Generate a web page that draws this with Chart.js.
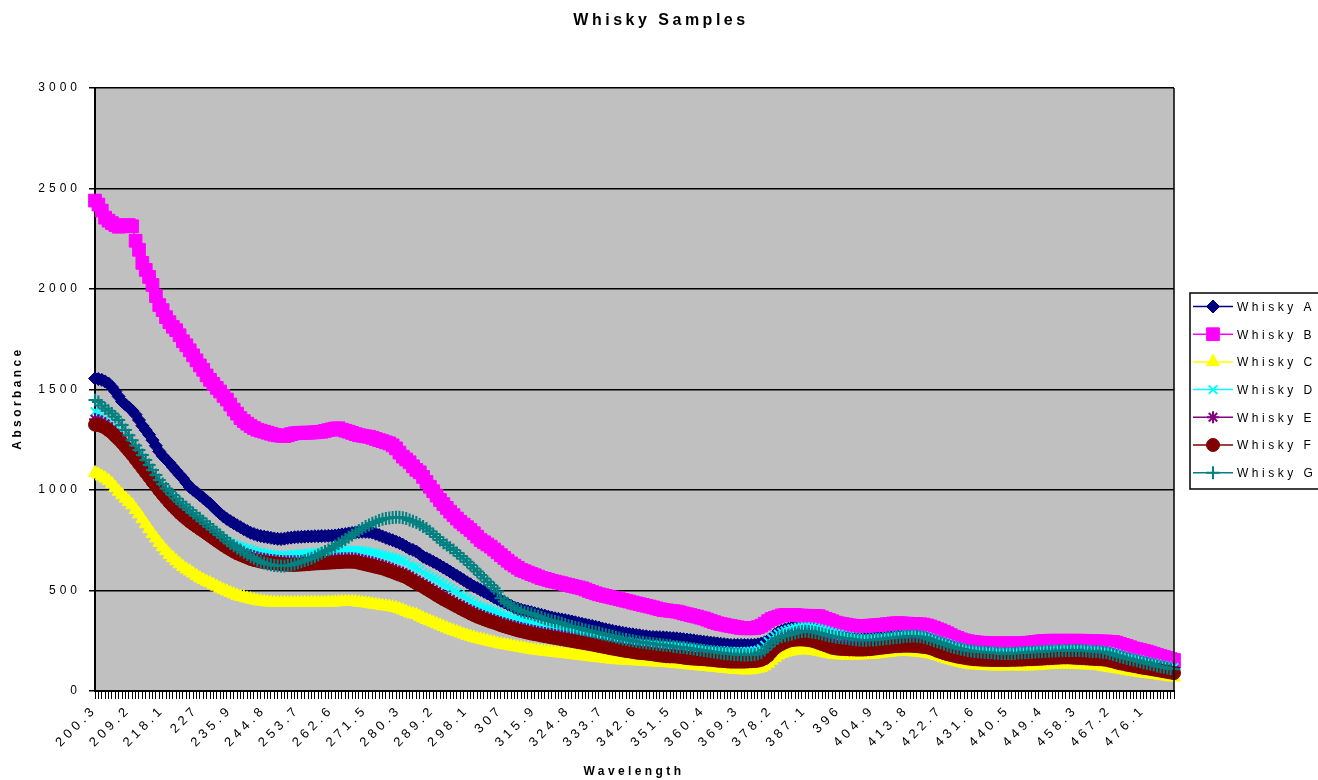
<!DOCTYPE html>
<html>
<head>
<meta charset="utf-8">
<title>Whisky Samples</title>
<script src="https://cdn.jsdelivr.net/npm/chart.js@4/dist/chart.umd.min.js"></script>
<style>
  html, body { margin: 0; padding: 0; background: #ffffff; }
  #wrap { position: relative; width: 1318px; height: 780px; }
</style>
</head>
<body>
<div id="wrap"><canvas id="whiskyChart" width="1318" height="780"></canvas></div>
<script>
/**
 * ===========================================================================
 * DATA - absorbance per wavelength step
 * ===========================================================================
 */

// Visible category labels, one every 10 wavelength steps
const tickLabels = ['200.3', '209.2', '218.1', '227', '235.9', '244.8', '253.7', '262.6',
    '271.5', '280.3', '289.2', '298.1', '307', '315.9', '324.8', '333.7', '342.6', '351.5',
    '360.4', '369.3', '378.2', '387.1', '396', '404.9', '413.8', '422.7', '431.6', '440.5',
    '449.4', '458.3', '467.2', '476.1'];

const seriesNames = ['Whisky A', 'Whisky B', 'Whisky C', 'Whisky D', 'Whisky E', 'Whisky F', 'Whisky G'];

const whiskyA = [
    1555, 1552, 1548, 1540, 1530, 1512, 1490, 1465, 1440, 1425,
    1410, 1395, 1375, 1348, 1320, 1298, 1275, 1248, 1220, 1192,
    1170, 1152, 1135, 1115, 1095, 1076, 1058, 1036, 1015, 1001,
    988, 974, 960, 946, 932, 915, 898, 883, 868, 856,
    845, 835, 825, 815, 805, 796, 787, 781, 775, 771,
    768, 765, 762, 759, 757, 756, 758, 761, 763, 765,
    766, 767, 768, 769, 769, 770, 770, 771, 771, 772,
    772, 774, 776, 779, 781, 784, 786, 789, 791, 792,
    792, 791, 788, 782, 776, 769, 762, 756, 750, 743,
    736, 728, 718, 708, 702, 694, 682, 668, 660, 652,
    643, 634, 624, 614, 604, 594, 583, 573, 562, 552,
    541, 531, 520, 512, 503, 494, 485, 476, 466, 458,
    449, 441, 432, 424, 415, 410, 404, 400, 396, 392,
    387, 383, 379, 375, 370, 366, 362, 359, 356, 353,
    350, 346, 342, 338, 334, 331, 327, 324, 320, 316,
    311, 307, 303, 300, 296, 293, 290, 287, 284, 282,
    279, 277, 274, 272, 270, 269, 268, 268, 267, 266,
    264, 263, 262, 260, 258, 256, 254, 252, 249, 247,
    245, 243, 241, 239, 237, 235, 233, 231, 229, 229,
    229, 229, 229, 229, 229, 230, 232, 236, 242, 252,
    265, 280, 292, 299, 305, 310, 315, 318, 320, 323,
    326, 325, 322, 319, 315, 311, 306, 302, 297, 293,
    290, 284, 279, 274, 271, 269, 268, 268, 268, 269,
    269, 270, 270, 272, 274, 276, 278, 280, 281, 283,
    284, 285, 285, 284, 281, 278, 274, 269, 263, 258,
    252, 246, 240, 235, 229, 224, 219, 215, 212, 209,
    207, 205, 204, 203, 202, 201, 200, 199, 199, 198,
    198, 199, 200, 201, 202, 203, 204, 205, 206, 207,
    208, 209, 210, 210, 211, 211, 212, 212, 212, 212,
    212, 212, 211, 210, 209, 208, 207, 206, 204, 202,
    198, 193, 187, 182, 178, 174, 169, 165, 161, 156,
    152, 148, 144, 140, 135, 131, 127, 124, 121, 118
];

const whiskyB = [
    2440, 2420, 2390, 2355, 2340, 2328, 2318, 2310, 2312, 2316,
    2318, 2312, 2240, 2195, 2130, 2095, 2060, 2020, 1965, 1920,
    1895, 1860, 1835, 1812, 1795, 1770, 1740, 1720, 1695, 1670,
    1645, 1620, 1598, 1570, 1548, 1528, 1508, 1490, 1468, 1450,
    1425, 1400, 1380, 1358, 1343, 1330, 1318, 1308, 1300, 1295,
    1290, 1285, 1280, 1275, 1272, 1270, 1268, 1272, 1278, 1282,
    1284, 1285, 1285, 1285, 1286, 1287, 1288, 1290, 1294, 1298,
    1302, 1306, 1307, 1300, 1295, 1290, 1284, 1278, 1273, 1270,
    1267, 1265, 1260, 1254, 1248, 1243, 1237, 1232, 1222, 1207,
    1186, 1166, 1152, 1138, 1118, 1100, 1088, 1065, 1040, 1016,
    994, 972, 950, 930, 911, 892, 875, 858, 842, 828,
    815, 801, 785, 768, 751, 740, 729, 718, 704, 690,
    676, 662, 648, 635, 624, 613, 602, 596, 589, 582,
    576, 569, 562, 558, 553, 548, 544, 540, 536, 531,
    527, 523, 519, 515, 511, 505, 498, 492, 486, 481,
    477, 473, 469, 465, 461, 457, 453, 449, 445, 440,
    436, 432, 428, 424, 420, 416, 411, 407, 403, 401,
    399, 397, 395, 391, 386, 382, 378, 374, 370, 365,
    361, 355, 349, 343, 337, 333, 330, 326, 323, 320,
    317, 314, 312, 312, 312, 313, 318, 325, 335, 348,
    358, 364, 370, 376, 378, 378, 378, 378, 376, 375,
    374, 374, 374, 373, 372, 366, 359, 353, 347, 340,
    336, 333, 330, 327, 325, 323, 323, 323, 324, 325,
    326, 327, 328, 330, 332, 334, 336, 337, 337, 336,
    335, 334, 333, 332, 332, 330, 326, 321, 315, 308,
    302, 295, 287, 278, 270, 264, 257, 252, 248, 245,
    243, 241, 240, 239, 238, 237, 237, 237, 237, 237,
    237, 237, 237, 237, 237, 238, 240, 242, 244, 246,
    248, 249, 250, 250, 250, 250, 250, 250, 250, 250,
    250, 250, 250, 249, 248, 248, 247, 247, 246, 246,
    245, 244, 240, 234, 229, 224, 218, 212, 208, 204,
    200, 196, 191, 185, 179, 174, 169, 164, 159, 154
];

const whiskyC = [
    1085, 1078, 1068, 1058, 1046, 1031, 1012, 992, 975, 958,
    942, 925, 902, 880, 856, 831, 806, 782, 760, 738,
    716, 697, 678, 662, 647, 632, 618, 606, 596, 585,
    573, 562, 553, 545, 538, 529, 520, 511, 503, 496,
    489, 482, 475, 470, 466, 461, 457, 453, 449, 446,
    444, 442, 441, 440, 439, 439, 439, 439, 439, 439,
    439, 439, 439, 439, 440, 440, 440, 440, 440, 441,
    441, 442, 443, 444, 444, 444, 444, 443, 441, 439,
    437, 435, 432, 429, 427, 424, 422, 420, 417, 413,
    408, 402, 395, 388, 383, 379, 371, 362, 355, 348,
    341, 334, 327, 320, 313, 306, 300, 294, 288, 282,
    276, 271, 266, 261, 257, 253, 249, 245, 241, 237,
    233, 230, 227, 224, 221, 218, 215, 212, 209, 206,
    203, 201, 199, 197, 195, 193, 191, 189, 187, 185,
    183, 181, 179, 177, 175, 173, 171, 169, 167, 165,
    163, 161, 159, 157, 155, 154, 153, 152, 151, 150,
    149, 148, 147, 146, 145, 144, 143, 142, 141, 140,
    139, 137, 135, 134, 133, 131, 129, 127, 126, 124,
    122, 121, 119, 117, 116, 114, 112, 111, 109, 107,
    106, 105, 104, 104, 105, 108, 112, 117, 124, 137,
    152, 166, 178, 186, 192, 196, 199, 201, 203, 204,
    205, 204, 202, 199, 196, 193, 189, 185, 182, 180,
    179, 178, 178, 178, 178, 178, 179, 179, 180, 181,
    182, 184, 186, 188, 190, 192, 194, 195, 196, 196,
    196, 195, 194, 193, 191, 189, 187, 184, 180, 175,
    170, 164, 158, 154, 149, 145, 141, 137, 133, 130,
    129, 128, 127, 126, 125, 124, 124, 124, 124, 124,
    124, 124, 124, 124, 124, 124, 124, 124, 125, 126,
    128, 129, 130, 131, 132, 133, 134, 134, 133, 132,
    131, 130, 130, 129, 129, 128, 127, 125, 122, 119,
    116, 113, 111, 108, 105, 102, 99, 96, 94, 91,
    88, 86, 84, 82, 80, 77, 75, 73, 70, 68
];

const whiskyD = [
    1390, 1382, 1368, 1352, 1336, 1318, 1298, 1278, 1258, 1238,
    1218, 1198, 1176, 1154, 1132, 1110, 1088, 1066, 1044, 1022,
    1002, 985, 968, 951, 934, 917, 902, 888, 874, 861,
    848, 835, 822, 810, 798, 787, 776, 765, 755, 747,
    739, 731, 724, 719, 714, 709, 703, 697, 692, 689,
    686, 683, 680, 677, 676, 675, 675, 676, 678, 680,
    681, 682, 683, 685, 686, 688, 690, 692, 694, 695,
    697, 698, 699, 700, 700, 701, 701, 700, 699, 698,
    695, 691, 688, 685, 681, 676, 672, 668, 664, 658,
    653, 648, 638, 625, 618, 612, 602, 589, 579, 570,
    561, 552, 541, 531, 521, 511, 500, 490, 480, 469,
    459, 449, 438, 428, 420, 414, 409, 403, 397, 390,
    382, 375, 370, 364, 359, 355, 351, 347, 343, 339,
    335, 331, 326, 321, 318, 315, 313, 311, 308, 305,
    301, 298, 294, 291, 288, 284, 281, 278, 275, 272,
    269, 266, 263, 260, 257, 254, 251, 249, 246, 243,
    240, 239, 237, 236, 234, 233, 232, 230, 229, 228,
    227, 226, 224, 223, 221, 219, 217, 215, 212, 210,
    207, 206, 204, 203, 201, 200, 199, 198, 197, 196,
    196, 196, 196, 197, 198, 200, 203, 210, 228, 246,
    262, 274, 284, 292, 299, 305, 310, 314, 317, 319,
    320, 319, 317, 314, 310, 306, 301, 296, 291, 286,
    282, 278, 274, 271, 268, 266, 264, 263, 263, 263,
    264, 265, 266, 268, 270, 272, 274, 276, 278, 279,
    280, 281, 281, 280, 278, 275, 270, 264, 258, 252,
    247, 241, 235, 229, 224, 219, 215, 211, 208, 206,
    204, 202, 201, 200, 199, 198, 197, 196, 196, 195,
    195, 196, 196, 197, 198, 199, 200, 201, 202, 203,
    204, 205, 206, 207, 207, 208, 208, 209, 209, 209,
    209, 209, 208, 207, 206, 205, 204, 203, 201, 199,
    195, 190, 185, 179, 174, 170, 166, 162, 158, 154,
    150, 146, 142, 138, 134, 130, 127, 124, 121, 117
];

const whiskyE = [
    1352, 1348, 1340, 1330, 1316, 1300, 1283, 1266, 1247, 1228,
    1208, 1188, 1166, 1144, 1122, 1100, 1078, 1056, 1034, 1012,
    992, 972, 953, 935, 918, 902, 887, 873, 860, 848,
    836, 824, 813, 801, 789, 777, 766, 754, 743, 732,
    722, 712, 703, 695, 688, 681, 675, 670, 665, 661,
    658, 655, 652, 650, 648, 647, 646, 645, 645, 645,
    646, 647, 648, 649, 650, 652, 653, 654, 655, 656,
    657, 658, 659, 660, 661, 661, 660, 659, 656, 652,
    648, 644, 640, 636, 631, 626, 620, 614, 608, 601,
    595, 588, 581, 572, 562, 552, 543, 534, 524, 514,
    504, 494, 484, 474, 464, 455, 446, 437, 428, 419,
    410, 402, 394, 386, 379, 372, 366, 360, 354, 348,
    342, 337, 332, 327, 322, 318, 314, 310, 306, 302,
    298, 295, 292, 289, 286, 283, 280, 277, 274, 271,
    268, 265, 262, 259, 256, 253, 250, 247, 244, 241,
    238, 235, 232, 229, 226, 223, 220, 217, 215, 212,
    210, 208, 206, 204, 202, 200, 198, 196, 194, 192,
    191, 190, 189, 187, 185, 183, 181, 179, 177, 175,
    174, 172, 171, 169, 168, 167, 166, 165, 164, 164,
    164, 164, 164, 165, 166, 168, 171, 177, 188, 204,
    222, 238, 250, 260, 268, 275, 280, 283, 285, 286,
    286, 284, 281, 277, 271, 265, 258, 251, 245, 240,
    237, 235, 233, 232, 231, 230, 230, 230, 231, 232,
    234, 236, 238, 240, 242, 244, 246, 248, 249, 250,
    251, 251, 251, 250, 248, 245, 241, 236, 230, 224,
    218, 212, 206, 200, 195, 191, 187, 184, 181, 179,
    177, 175, 174, 173, 172, 171, 171, 170, 170, 170,
    170, 171, 171, 172, 173, 174, 175, 176, 177, 178,
    179, 180, 181, 182, 183, 184, 184, 185, 185, 185,
    185, 184, 183, 182, 181, 180, 179, 178, 176, 174,
    170, 166, 161, 156, 152, 148, 144, 140, 136, 132,
    129, 126, 123, 120, 117, 114, 111, 108, 105, 102
];

const whiskyF = [
    1325, 1323, 1318, 1310, 1298, 1285, 1268, 1252, 1234, 1214,
    1195, 1175, 1153, 1131, 1109, 1087, 1065, 1042, 1020, 998,
    978, 958, 938, 920, 903, 886, 871, 857, 843, 831,
    819, 807, 796, 784, 772, 760, 748, 737, 725, 714,
    704, 694, 685, 678, 671, 664, 657, 652, 648, 644,
    641, 639, 637, 635, 633, 631, 629, 628, 627, 627,
    628, 629, 630, 631, 633, 634, 635, 636, 637, 638,
    639, 640, 641, 642, 643, 643, 643, 642, 638, 634,
    630, 626, 622, 618, 614, 610, 604, 598, 592, 585,
    579, 573, 566, 556, 546, 536, 528, 519, 508, 498,
    488, 477, 467, 457, 448, 439, 430, 421, 412, 403,
    395, 386, 378, 370, 364, 357, 351, 345, 340, 334,
    327, 322, 317, 312, 307, 302, 298, 294, 290, 286,
    283, 280, 276, 273, 270, 267, 264, 261, 258, 255,
    252, 249, 246, 243, 240, 237, 234, 231, 228, 224,
    221, 218, 214, 211, 208, 205, 202, 199, 197, 194,
    191, 189, 188, 186, 184, 182, 179, 177, 175, 173,
    172, 172, 171, 169, 166, 164, 162, 161, 160, 159,
    158, 156, 155, 153, 151, 150, 149, 147, 146, 146,
    146, 146, 146, 147, 148, 149, 151, 155, 163, 176,
    195, 213, 225, 234, 242, 249, 253, 255, 256, 256,
    255, 253, 250, 245, 239, 233, 227, 221, 215, 212,
    210, 209, 208, 207, 207, 206, 206, 206, 207, 208,
    210, 212, 214, 216, 218, 220, 222, 223, 224, 225,
    225, 225, 224, 223, 221, 219, 217, 213, 207, 200,
    194, 188, 183, 179, 175, 171, 168, 165, 162, 160,
    158, 157, 156, 155, 155, 154, 154, 154, 154, 154,
    154, 155, 155, 156, 156, 157, 158, 158, 159, 160,
    161, 162, 163, 164, 165, 166, 167, 167, 167, 166,
    165, 164, 163, 162, 161, 160, 159, 158, 157, 155,
    151, 147, 142, 138, 135, 131, 128, 125, 122, 118,
    115, 113, 110, 107, 104, 101, 98, 95, 92, 89
];

const whiskyG = [
    1448, 1438, 1420, 1406, 1394, 1381, 1365, 1348, 1323, 1298,
    1273, 1248, 1222, 1199, 1174, 1149, 1124, 1099, 1075, 1050,
    1030, 1008, 992, 975, 958, 942, 928, 914, 900, 886,
    872, 859, 845, 831, 817, 804, 790, 776, 762, 748,
    734, 723, 712, 701, 690, 679, 668, 660, 651, 643,
    637, 632, 628, 625, 623, 622, 622, 624, 627, 632,
    638, 643, 649, 655, 660, 668, 677, 685, 694, 702,
    710, 721, 732, 743, 754, 765, 776, 787, 798, 809,
    818, 826, 834, 841, 848, 854, 858, 861, 863, 864,
    864, 862, 858, 851, 845, 838, 828, 818, 809, 795,
    781, 766, 751, 738, 726, 713, 701, 687, 672, 658,
    643, 627, 610, 594, 577, 560, 544, 527, 511, 495,
    462, 447, 436, 425, 414, 405, 398, 392, 388, 384,
    378, 372, 366, 359, 354, 349, 346, 342, 337, 331,
    325, 321, 317, 313, 309, 304, 300, 296, 292, 288,
    284, 280, 276, 272, 268, 264, 259, 256, 253, 250,
    246, 244, 242, 239, 237, 235, 233, 231, 229, 227,
    225, 222, 220, 218, 216, 214, 212, 209, 206, 204,
    201, 199, 196, 194, 191, 189, 187, 185, 184, 182,
    181, 180, 179, 179, 180, 182, 185, 192, 204, 220,
    236, 250, 262, 270, 275, 279, 283, 288, 293, 296,
    297, 296, 294, 291, 287, 283, 279, 275, 271, 268,
    266, 264, 262, 260, 257, 255, 254, 253, 253, 254,
    254, 255, 257, 259, 261, 263, 265, 267, 268, 270,
    272, 273, 274, 273, 270, 267, 262, 256, 250, 245,
    240, 234, 228, 222, 217, 213, 209, 205, 201, 199,
    197, 195, 194, 193, 191, 190, 189, 188, 187, 187,
    187, 187, 188, 189, 190, 191, 192, 193, 194, 195,
    196, 197, 198, 199, 199, 200, 200, 201, 201, 201,
    201, 201, 200, 199, 198, 197, 196, 195, 193, 191,
    187, 182, 177, 171, 167, 162, 158, 154, 150, 146,
    142, 138, 134, 130, 125, 121, 118, 115, 111, 108
];

/**
 * ===========================================================================
 * STYLE
 * ===========================================================================
 */

const FONT = '"Liberation Sans", Arial, Helvetica, sans-serif';

// Excel-like series look: colour, marker, marker size, marker stroke
const seriesStyles = [
    { color: '#000080', marker: 'rectRot', radius: 6.5, stroke: 1 },
    { color: '#FF00FF', marker: 'rect', radius: 9, stroke: 1 },
    { color: '#FFFF00', marker: 'triangle', radius: 7.5, stroke: 1 },
    { color: '#00FFFF', marker: 'crossRot', radius: 6, stroke: 2 },
    { color: '#800080', marker: 'star', radius: 6, stroke: 2 },
    { color: '#800000', marker: 'circle', radius: 6.5, stroke: 1 },
    { color: '#008080', marker: 'cross', radius: 6.5, stroke: 2 }
];

document.addEventListener('DOMContentLoaded', function() {
    createWhiskyChart();
});

/**
 * Plot background, frame, titles and the boxed legend on the right
 */
const excelFrame = {
    id: 'excelFrame',
    beforeDraw(chart) {
        const ctx = chart.ctx;
        const a = chart.chartArea;
        ctx.save();
        ctx.fillStyle = '#C0C0C0';
        ctx.fillRect(a.left, a.top, a.right - a.left, a.bottom - a.top);
        ctx.restore();
        // wide Excel-style letter spacing for tick labels
        ctx.letterSpacing = '4px';
    },
    afterDraw(chart) {
        const ctx = chart.ctx;
        const a = chart.chartArea;
        ctx.save();

        // right border of the plot area
        ctx.strokeStyle = '#000';
        ctx.lineWidth = 1.5;
        ctx.beginPath();
        ctx.moveTo(a.right, a.top);
        ctx.lineTo(a.right, a.bottom);
        ctx.stroke();

        ctx.fillStyle = '#000';
        ctx.textAlign = 'center';
        ctx.textBaseline = 'middle';

        // chart title
        ctx.letterSpacing = '3.5px';
        ctx.font = 'bold 16px ' + FONT;
        ctx.fillText('Whisky Samples', 661, 21);

        // axis titles
        ctx.letterSpacing = '3.4px';
        ctx.font = 'bold 12px ' + FONT;
        ctx.fillText('Wavelength', 634, 772);
        ctx.save();
        ctx.translate(18, 398);
        ctx.rotate(-Math.PI / 2);
        ctx.fillText('Absorbance', 0, 0);
        ctx.restore();

        drawLegend(ctx);
        ctx.restore();
    }
};

function drawLegend(ctx) {
    ctx.save();
    ctx.letterSpacing = '3.5px';
    ctx.fillStyle = '#fff';
    ctx.fillRect(1190, 293, 140, 196);
    ctx.strokeStyle = '#000';
    ctx.lineWidth = 1.5;
    ctx.strokeRect(1190, 293, 140, 196);

    ctx.font = '12px ' + FONT;
    ctx.textAlign = 'left';
    ctx.textBaseline = 'middle';

    seriesNames.forEach(function(name, i) {
        const st = seriesStyles[i];
        const y = 306.5 + i * 27.7;

        ctx.strokeStyle = st.color;
        ctx.lineWidth = 1.5;
        ctx.beginPath();
        ctx.moveTo(1193, y);
        ctx.lineTo(1233, y);
        ctx.stroke();

        ctx.fillStyle = st.color;
        ctx.lineWidth = st.stroke;
        if (Chart.helpers && Chart.helpers.drawPoint) {
            Chart.helpers.drawPoint(ctx, {
                pointStyle: st.marker, radius: st.radius, rotation: 0, borderWidth: st.stroke
            }, 1213, y);
        }

        ctx.fillStyle = '#000';
        ctx.fillText(name, 1237, y + 1);
    });
    ctx.restore();
}

/**
 * ===========================================================================
 * CHART
 * ===========================================================================
 */
function createWhiskyChart() {
    const ctx = document.getElementById('whiskyChart');
    const allSeries = [whiskyA, whiskyB, whiskyC, whiskyD, whiskyE, whiskyF, whiskyG];

    // category index per wavelength step; visible text comes from tickLabels
    const steps = whiskyA.map(function(v, i) { return i; });

    const datasets = allSeries.map(function(values, i) {
        const st = seriesStyles[i];
        return {
            label: seriesNames[i],
            data: values,
            borderColor: st.color,
            backgroundColor: st.color,
            borderWidth: 1.5,
            pointStyle: st.marker,
            pointRadius: st.radius,
            pointHoverRadius: st.radius,
            pointBorderWidth: st.stroke,
            pointBackgroundColor: st.color,
            pointBorderColor: st.color,
            tension: 0,
            clip: 9,
            order: allSeries.length - i   // later series drawn on top, as in Excel
        };
    });

    new Chart(ctx, {
        type: 'line',
        data: { labels: steps, datasets: datasets },
        plugins: [excelFrame],
        options: {
            responsive: false,
            animation: false,
            devicePixelRatio: 1,
            events: [],
            layout: { padding: { top: 88, right: 144, left: 0, bottom: 0 } },
            plugins: {
                legend: { display: false },
                title: { display: false },
                tooltip: { enabled: false }
            },
            scales: {
                x: {
                    type: 'category',
                    offset: false,
                    grid: {
                        display: true,
                        drawOnChartArea: false,
                        drawTicks: true,
                        tickLength: 8,
                        color: '#000',
                        lineWidth: 1
                    },
                    border: { display: true, color: '#000', width: 2 },
                    ticks: {
                        autoSkip: false,
                        minRotation: 45,
                        maxRotation: 45,
                        padding: 3,
                        color: '#000',
                        font: { family: FONT, size: 13 },
                        callback: function(value, index) {
                            return index % 10 === 0 ? tickLabels[index / 10] : '';
                        }
                    },
                    afterFit: function(scale) { scale.height = 89; }
                },
                y: {
                    min: 0,
                    max: 3000,
                    grid: { color: '#000', lineWidth: 1.5, tickLength: 6 },
                    border: { display: true, color: '#000', width: 2 },
                    ticks: {
                        stepSize: 500,
                        padding: 8,
                        color: '#000',
                        font: { family: FONT, size: 12 },
                        callback: function(value) { return String(value); }
                    },
                    afterFit: function(scale) { scale.width = 95; }
                }
            }
        }
    });
}
</script>
</body>
</html>
